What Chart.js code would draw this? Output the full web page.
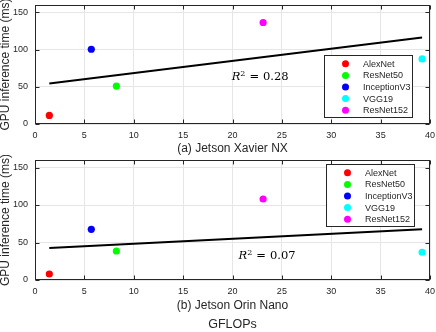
<!DOCTYPE html>
<html>
<head>
<meta charset="utf-8">
<script src="https://cdn.jsdelivr.net/npm/chart.js@4.4.0/dist/chart.umd.min.js"></script>
<style>
  html, body { margin: 0; padding: 0; background: #fff; }
  #wrap { position: relative; width: 436px; height: 332px; overflow: hidden; }
  canvas { position: absolute; left: 0; }
</style>
</head>
<body>
<div id="wrap">
  <canvas id="chart_nx" width="436" height="160" style="top:0px"></canvas>
  <canvas id="chart_nano" width="436" height="177" style="top:155px"></canvas>
</div>
<script>
// models and colours
const models = ["AlexNet", "ResNet50", "InceptionV3", "VGG19", "ResNet152"];
const model_colors = ["#ff0000", "#00ff00", "#0000ff", "#00ffff", "#ff00ff"];
// GFLOPs of each model (x axis)
const gflops = [1.45, 8.24, 5.7, 39.2, 23.1];
// GPU inference time (ms)
const time_nx = [11.5, 51, 100.5, 87.5, 136.5];
const time_nano = [8, 38.7, 67.6, 37, 108];
// linear fit end points
const fit_x = [1.45, 39.2];
const fit_nx = [54.6, 116.2];
const fit_nano = [42.7, 67.6];
const r2_nx = "0.28";
const r2_nano = "0.07";
// ticks
const x_ticks = [0, 5, 10, 15, 20, 25, 30, 35, 40];
const y_ticks = [0, 50, 100, 150];

const sans = "'Liberation Sans', Arial, sans-serif";
const axis_color = "#262626";

// frame, inner ticks, R^2 label and the legend box
const decorPlugin = {
  id: "decor",
  afterDraw(chart, args, opts) {
    const ctx = chart.ctx;
    const a = chart.chartArea;
    const xs = chart.scales.x;
    const ys = chart.scales.y;
    ctx.save();
    ctx.strokeStyle = axis_color;
    ctx.lineWidth = 1;
    const L = Math.round(a.left) + 0.5, R = Math.round(a.right) - 0.5;
    const T = Math.round(a.top) + 0.5, B = Math.round(a.bottom) - 0.5;
    ctx.beginPath();
    xs.ticks.forEach((t) => {
      const px = Math.round(xs.getPixelForValue(t.value)) + 0.5;
      ctx.moveTo(px, B); ctx.lineTo(px, B - 4);
      ctx.moveTo(px, T); ctx.lineTo(px, T + 4);
    });
    ys.ticks.forEach((t) => {
      const py = Math.round(ys.getPixelForValue(t.value)) + 0.5;
      ctx.moveTo(L, py); ctx.lineTo(L + 4, py);
      ctx.moveTo(R, py); ctx.lineTo(R - 4, py);
    });
    ctx.stroke();
    ctx.strokeRect(L, T, R - L, B - T);

    // R^2 text
    const r2 = opts.r2;
    const cx = xs.getPixelForValue(r2.x);
    const base = ys.getPixelForValue(r2.y);
    const fR = "italic 11.5px 'DejaVu Serif', serif";
    const fS = "8px 'DejaVu Serif', serif";
    const fN = "11.5px 'DejaVu Serif', serif";
    ctx.font = fR; const wR = ctx.measureText("R").width;
    ctx.font = fS; const wS = ctx.measureText("2").width;
    ctx.font = fN; const wE = ctx.measureText("=").width;
    const wV = ctx.measureText(r2.value).width;
    const gap = 4;
    const total = wR + wS + gap + wE + gap + wV;
    let x0 = cx - total / 2;
    ctx.fillStyle = "#000";
    ctx.textBaseline = "alphabetic";
    ctx.textAlign = "left";
    ctx.font = fR; ctx.fillText("R", x0, base); x0 += wR;
    ctx.font = fS; ctx.fillText("2", x0, base - 4.5); x0 += wS + gap;
    ctx.font = fN; ctx.fillText("=", x0, base); x0 += wE + gap;
    ctx.fillText(r2.value, x0, base);

    // legend box inside the axes
    const lg = opts.legend;
    const bx = Math.round(a.right - lg.right - lg.width) + 0.5;
    const by = Math.round(a.top + lg.top) + 0.5;
    ctx.fillStyle = "#fff";
    ctx.fillRect(bx, by, lg.width, lg.height);
    ctx.strokeStyle = axis_color;
    ctx.strokeRect(bx, by, lg.width, lg.height);
    ctx.font = "9px " + sans;
    ctx.textBaseline = "middle";
    const items = chart.data.datasets.filter((d) => d.type !== "line");
    items.forEach((d, i) => {
      const iy = by + 8.3 + i * 11.6;
      ctx.fillStyle = d.backgroundColor;
      ctx.beginPath();
      ctx.arc(bx + 21, iy, 3.5, 0, Math.PI * 2);
      ctx.fill();
      ctx.fillStyle = axis_color;
      ctx.fillText(d.label, bx + 38.5, iy + 0.5);
    });
    ctx.restore();
  },
};

function CreateScatterChart(canvas_id, times, fit_y, r2, r2_pos, legend_pos, caption, bottom_title) {
  const ctx = document.getElementById(canvas_id).getContext("2d");
  const datasets = models.map((m, i) => ({
    type: "scatter",
    label: m,
    data: [{ x: gflops[i], y: times[i] }],
    backgroundColor: model_colors[i],
    borderWidth: 0,
    pointRadius: 3.6,
  }));
  datasets.push({
    type: "line",
    label: "fit",
    data: fit_x.map((x, i) => ({ x: x, y: fit_y[i] })),
    borderColor: "#000",
    borderWidth: 2,
    pointRadius: 0,
    fill: false,
  });
  const canvas_h = document.getElementById(canvas_id).height;
  const title_h = bottom_title ? 15 : 0;
  // top chart: plot 5..124, bottom chart: plot 5..125 (canvas coords)
  const plot_bottom = canvas_id === "chart_nx" ? 124 : 125;
  return new Chart(ctx, {
    data: { datasets: datasets },
    plugins: [decorPlugin],
    options: {
      responsive: false,
      animation: false,
      devicePixelRatio: 1,
      layout: { padding: { left: 0, top: 5, right: 6, bottom: 0 } },
      scales: {
        x: {
          type: "linear",
          min: 0,
          max: 40,
          afterBuildTicks: (s) => { s.ticks = x_ticks.map((v) => ({ value: v })); },
          afterFit: (s) => {
            s.height = canvas_h - title_h - plot_bottom;
            s.paddingLeft = 0;
            s.paddingRight = 0;
          },
          grid: { color: "#e6e6e6", lineWidth: 1, drawTicks: false },
          border: { display: false },
          ticks: { color: axis_color, font: { family: sans, size: 9 }, padding: 6, maxRotation: 0 },
          title: {
            display: true,
            text: caption,
            color: axis_color,
            font: { family: sans, size: 12 },
            padding: { top: 0, bottom: 4 },
          },
        },
        y: {
          type: "linear",
          min: 0,
          max: 160,
          afterBuildTicks: (s) => { s.ticks = y_ticks.map((v) => ({ value: v })); },
          afterFit: (s) => {
            s.width = 35;
            s.paddingTop = 0;
            s.paddingBottom = 0;
          },
          grid: { color: "#e6e6e6", lineWidth: 1, drawTicks: false },
          border: { display: false },
          ticks: { color: axis_color, font: { family: sans, size: 9 }, padding: 7 },
          title: {
            display: true,
            text: "GPU inference time (ms)",
            color: axis_color,
            font: { family: sans, size: 12, lineHeight: 1 },
            padding: { top: 0, bottom: 0 },
          },
        },
      },
      plugins: {
        legend: { display: false },
        tooltip: { enabled: false },
        title: {
          display: !!bottom_title,
          text: bottom_title || "",
          position: "bottom",
          fullSize: false,
          color: axis_color,
          font: { family: sans, size: 12.5, weight: "normal", lineHeight: 1.2 },
          padding: { top: 0, bottom: 0 },
        },
        decor: { r2: { x: r2_pos[0], y: r2_pos[1], value: r2 }, legend: legend_pos },
      },
    },
  });
}

CreateScatterChart(
  "chart_nx",
  time_nx,
  fit_nx,
  r2_nx,
  [22.8, 58.5],
  { right: 18, top: 50, width: 88, height: 62 },
  "(a) Jetson Xavier NX",
  null
);

CreateScatterChart(
  "chart_nano",
  time_nano,
  fit_nano,
  r2_nano,
  [23.5, 28],
  { right: 16, top: 4, width: 88, height: 62 },
  "(b) Jetson Orin Nano",
  "GFLOPs"
);
</script>
</body>
</html>
